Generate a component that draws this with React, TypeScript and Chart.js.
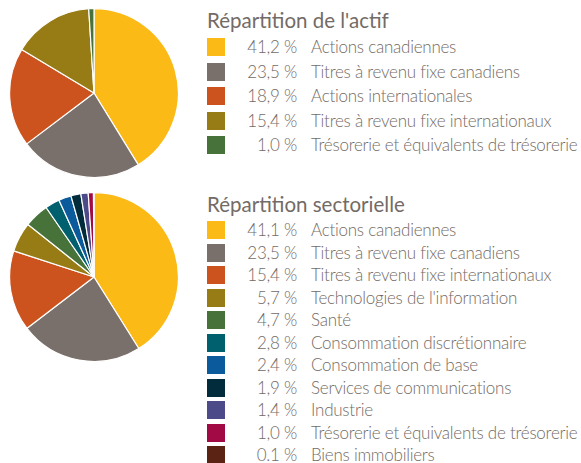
import React, { useEffect, useRef } from "react";
import { Chart, registerables } from "chart.js";

Chart.register(...registerables);

const assetLabels = [
  "Actions canadiennes",
  "Titres à revenu fixe canadiens",
  "Actions internationales",
  "Titres à revenu fixe internationaux",
  "Trésorerie et équivalents de trésorerie",
];
const assetValues = [41.2, 23.5, 18.9, 15.4, 1.0];
const assetColors = ["#FBBA16", "#7A706B", "#CC531E", "#977B14", "#47733A"];

const sectorLabels = [
  "Actions canadiennes",
  "Titres à revenu fixe canadiens",
  "Titres à revenu fixe internationaux",
  "Technologies de l'information",
  "Santé",
  "Consommation discrétionnaire",
  "Consommation de base",
  "Services de communications",
  "Industrie",
  "Trésorerie et équivalents de trésorerie",
  "Biens immobiliers",
];
const sectorValues = [41.1, 23.5, 15.4, 5.7, 4.7, 2.8, 2.4, 1.9, 1.4, 1.0, 0.1];
const sectorValueText = ["41,1", "23,5", "15,4", "5,7", "4,7", "2,8", "2,4", "1,9", "1,4", "1,0", "0.1"];
const sectorColors = [
  "#FBBA16", "#7A706B", "#CC531E", "#977B14", "#47733A", "#00606E",
  "#0B5A9C", "#022B3B", "#4D4A8A", "#A10A45", "#5A2314",
];

const assetTitle = "Répartition de l'actif";
const sectorTitle = "Répartition sectorielle";

const TEXT = "#736B66";
const FONT = "Lato, 'Open Sans', sans-serif";

function Pie({ values, colors, left, top, size }: { values: number[]; colors: string[]; left: number; top: number; size: number }) {
  const ref = useRef<HTMLCanvasElement | null>(null);
  useEffect(() => {
    if (!ref.current) return;
    const chart = new Chart(ref.current, {
      type: "pie",
      data: {
        labels: values.map((_, i) => String(i)),
        datasets: [
          {
            data: values,
            backgroundColor: colors,
            borderColor: "#ffffff",
            borderWidth: 1.2,
          },
        ],
      },
      options: {
        responsive: false,
        animation: false,
        layout: { padding: 0 },
        plugins: { legend: { display: false }, tooltip: { enabled: false } },
      },
    });
    return () => chart.destroy();
  }, []);
  return (
    <canvas
      ref={ref}
      width={size}
      height={size}
      style={{ position: "absolute", left, top, width: size, height: size }}
    />
  );
}

function Legend({ title, titleTop, rowTop, rowStep, labels, values, colors }: {
  title: string; titleTop: number; rowTop: number; rowStep: number; labels: string[]; values: string[]; colors: string[];
}) {
  const textStyle = { fontFamily: FONT, fontWeight: 300, fontSize: 17, letterSpacing: -0.25, color: TEXT, lineHeight: "22px", whiteSpace: "nowrap" as const };
  return (
    <>
      <div style={{ position: "absolute", left: 207, top: titleTop, fontFamily: FONT, fontSize: 20.5, color: TEXT, whiteSpace: "nowrap", lineHeight: "24px" }}>
        {title}
      </div>
      {labels.map((lab, i) => {
        const c = rowTop + i * rowStep;
        return (
          <React.Fragment key={i}>
            <div style={{ position: "absolute", left: 207, top: c - 9, width: 18, height: 18, background: colors[i] }} />
            <div style={{ ...textStyle, position: "absolute", left: 230, width: 67, top: c - 11, textAlign: "right" }}>
              {values[i]} %
            </div>
            <div style={{ ...textStyle, position: "absolute", left: 311, top: c - 11 }}>
              {lab}
            </div>
          </React.Fragment>
        );
      })}
    </>
  );
}

export default function App() {
  const assetValueText = assetValues.map((v) => v.toFixed(1).replace(".", ","));
  return (
    <div style={{ position: "absolute", left: 0, top: 0, width: 581, height: 463, background: "#fff", overflow: "hidden" }}>
      <Pie values={assetValues} colors={assetColors} left={9} top={8} size={170} />
      <Pie values={sectorValues} colors={sectorColors} left={9} top={192} size={170} />
      <Legend title={assetTitle} titleTop={8} rowTop={47} rowStep={24.5} labels={assetLabels} values={assetValueText} colors={assetColors} />
      <Legend title={sectorTitle} titleTop={192} rowTop={230} rowStep={22.5} labels={sectorLabels} values={sectorValueText} colors={sectorColors} />
    </div>
  );
}
